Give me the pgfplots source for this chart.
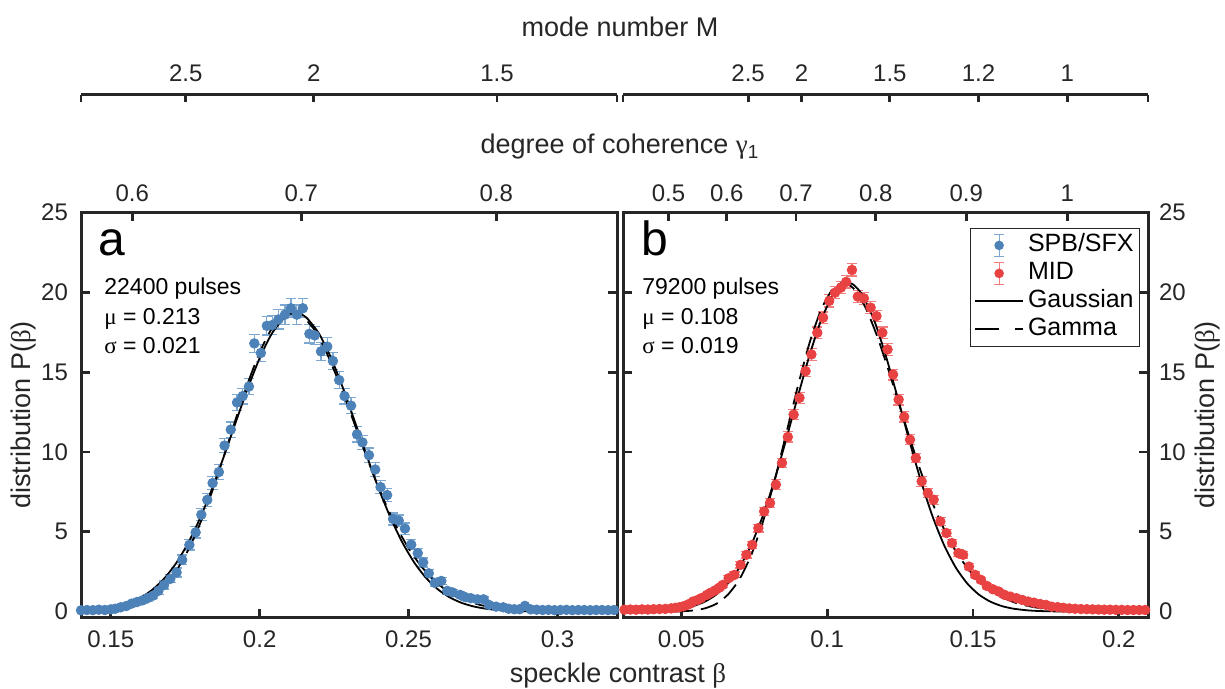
\documentclass[border=0pt]{standalone}
\usepackage{pgfplots}
\pgfplotsset{compat=1.18}
\usepackage{pgfplotstable}
\usepackage{fontspec}
\setmainfont{Liberation Sans}
\newfontfamily\grk{Liberation Serif}
\definecolor{bluepts}{RGB}{77,130,184}
\definecolor{blueerr}{RGB}{125,168,210}
\definecolor{redpts}{RGB}{232,66,66}
\definecolor{rederr}{RGB}{242,125,125}
\definecolor{axgray}{RGB}{38,38,38}

\pgfplotstableread{
x y e
0.1400 0.08 0.10
0.1420 0.10 0.10
0.1440 0.09 0.10
0.1460 0.12 0.10
0.1480 0.10 0.10
0.1500 0.14 0.10
0.1515 0.18 0.10
0.1533 0.27 0.12
0.1552 0.35 0.12
0.1570 0.50 0.15
0.1588 0.60 0.15
0.1606 0.70 0.18
0.1624 0.85 0.20
0.1642 1.00 0.20
0.1660 1.30 0.22
0.1679 1.67 0.25
0.1700 2.05 0.25
0.1721 2.45 0.28
0.1740 3.24 0.30
0.1764 4.18 0.32
0.1785 4.96 0.35
0.1804 6.07 0.38
0.1824 7.00 0.40
0.1842 8.05 0.42
0.1863 8.74 0.45
0.1882 10.40 0.45
0.1903 11.40 0.48
0.1924 13.10 0.50
0.1943 13.50 0.50
0.1964 14.10 0.52
0.1982 16.80 0.55
0.2004 16.20 0.55
0.2024 17.90 0.58
0.2042 17.95 0.58
0.2063 18.30 0.60
0.2085 18.60 0.60
0.2105 19.00 0.60
0.2125 18.60 0.60
0.2145 19.00 0.60
0.2167 17.40 0.58
0.2185 17.30 0.58
0.2206 16.30 0.55
0.2227 16.60 0.55
0.2246 15.70 0.55
0.2267 14.50 0.52
0.2285 13.50 0.50
0.2307 12.90 0.50
0.2327 11.10 0.48
0.2345 10.60 0.45
0.2367 9.80 0.45
0.2388 8.90 0.42
0.2406 7.80 0.40
0.2428 7.30 0.40
0.2448 5.80 0.38
0.2467 5.70 0.35
0.2488 5.20 0.35
0.2509 4.20 0.32
0.2531 3.66 0.30
0.2549 3.08 0.28
0.2568 2.40 0.25
0.2588 1.80 0.25
0.2610 1.92 0.22
0.2630 1.30 0.20
0.2648 1.20 0.20
0.2673 1.05 0.18
0.2691 0.90 0.18
0.2709 0.84 0.15
0.2731 0.77 0.15
0.2752 0.77 0.15
0.2770 0.42 0.12
0.2794 0.31 0.12
0.2818 0.27 0.10
0.2836 0.18 0.10
0.2855 0.15 0.10
0.2873 0.15 0.10
0.2891 0.36 0.10
0.2910 0.14 0.10
0.2930 0.12 0.10
0.2950 0.10 0.10
0.2970 0.11 0.10
0.2990 0.09 0.10
0.3010 0.10 0.10
0.3030 0.11 0.10
0.3050 0.09 0.10
0.3070 0.10 0.10
0.3090 0.10 0.10
0.3110 0.09 0.10
0.3130 0.10 0.10
0.3150 0.10 0.10
0.3170 0.09 0.10
0.3190 0.10 0.10
}\spbdata

\pgfplotstableread{
x y e
0.0305 0.12 0.08
0.0325 0.13 0.08
0.0345 0.12 0.08
0.0365 0.14 0.08
0.0385 0.13 0.08
0.0405 0.15 0.08
0.0425 0.16 0.08
0.0445 0.17 0.08
0.0465 0.20 0.08
0.0480 0.24 0.08
0.0493 0.27 0.08
0.0507 0.33 0.10
0.0520 0.42 0.10
0.0530 0.50 0.10
0.0540 0.63 0.10
0.0555 0.72 0.12
0.0568 0.84 0.12
0.0588 1.05 0.12
0.0600 1.18 0.14
0.0615 1.32 0.14
0.0630 1.50 0.15
0.0642 1.67 0.15
0.0662 2.09 0.16
0.0682 2.30 0.18
0.0703 2.93 0.20
0.0723 3.56 0.20
0.0743 4.18 0.22
0.0764 5.23 0.24
0.0784 6.28 0.26
0.0804 6.80 0.28
0.0824 7.95 0.30
0.0845 9.31 0.30
0.0865 10.94 0.32
0.0885 12.34 0.32
0.0905 13.39 0.34
0.0926 15.06 0.34
0.0946 16.11 0.36
0.0966 17.47 0.36
0.0986 18.41 0.36
0.1007 19.46 0.38
0.1027 19.98 0.38
0.1047 20.29 0.38
0.1065 20.65 0.38
0.1085 21.40 0.38
0.1105 19.73 0.38
0.1126 19.62 0.38
0.1149 19.04 0.38
0.1169 18.51 0.36
0.1189 17.47 0.36
0.1207 16.42 0.36
0.1226 14.85 0.34
0.1245 13.28 0.34
0.1264 12.20 0.32
0.1284 10.77 0.32
0.1304 9.62 0.30
0.1324 8.16 0.30
0.1345 7.43 0.28
0.1365 7.01 0.28
0.1388 5.65 0.26
0.1409 4.92 0.24
0.1428 4.29 0.22
0.1450 3.66 0.22
0.1466 3.56 0.20
0.1486 2.82 0.20
0.1507 2.30 0.18
0.1527 1.99 0.16
0.1547 1.61 0.15
0.1568 1.40 0.15
0.1588 1.26 0.14
0.1608 1.05 0.13
0.1628 0.94 0.12
0.1649 0.84 0.12
0.1669 0.73 0.11
0.1689 0.63 0.10
0.1709 0.56 0.10
0.1730 0.48 0.10
0.1750 0.42 0.09
0.1770 0.31 0.09
0.1790 0.28 0.08
0.1810 0.24 0.08
0.1830 0.20 0.08
0.1850 0.18 0.08
0.1870 0.16 0.08
0.1890 0.15 0.08
0.1910 0.14 0.08
0.1930 0.13 0.08
0.1950 0.12 0.08
0.1970 0.12 0.08
0.1990 0.11 0.08
0.2010 0.11 0.08
0.2030 0.10 0.08
0.2050 0.10 0.08
0.2070 0.10 0.08
0.2090 0.10 0.08
}\middata

\pgfplotstableread{
x y
0.140 0.052
0.144 0.099
0.148 0.180
0.152 0.316
0.156 0.534
0.160 0.872
0.164 1.372
0.168 2.083
0.172 3.048
0.176 4.303
0.180 5.857
0.184 7.688
0.188 9.731
0.192 11.88
0.196 13.99
0.200 15.88
0.204 17.39
0.208 18.36
0.210 18.62
0.212 18.70
0.214 18.62
0.216 18.36
0.220 17.39
0.224 15.88
0.228 13.99
0.232 11.88
0.236 9.731
0.240 7.688
0.244 5.857
0.248 4.303
0.252 3.048
0.256 2.083
0.260 1.372
0.264 0.872
0.268 0.534
0.272 0.316
0.276 0.180
0.280 0.099
0.284 0.052
0.288 0.027
0.292 0.013
0.300 0.003
0.320 0.000
}\gaussA

\pgfplotstableread{
x y
0.140 0.010
0.144 0.026
0.148 0.061
0.152 0.134
0.156 0.278
0.160 0.533
0.164 0.943
0.168 1.605
0.172 2.56
0.176 3.86
0.180 5.52
0.184 7.51
0.188 9.75
0.192 12.08
0.196 14.30
0.200 16.24
0.204 17.71
0.208 18.56
0.211 18.75
0.214 18.56
0.218 17.75
0.222 16.41
0.226 14.66
0.230 12.70
0.234 10.66
0.238 8.68
0.242 6.87
0.246 5.29
0.250 3.97
0.254 2.90
0.258 2.06
0.262 1.43
0.266 0.97
0.270 0.64
0.274 0.42
0.278 0.26
0.282 0.16
0.286 0.10
0.290 0.06
0.296 0.025
0.300 0.015
0.320 0.002
}\gammaA

\pgfplotstableread{
x y
0.030 0.004
0.040 0.029
0.045 0.075
0.050 0.179
0.054 0.340
0.058 0.618
0.062 1.069
0.066 1.767
0.070 2.788
0.074 4.198
0.078 6.03
0.082 8.27
0.086 10.82
0.090 13.51
0.094 16.09
0.098 18.30
0.102 19.86
0.105 20.48
0.107 20.60
0.109 20.48
0.112 19.86
0.116 18.30
0.120 16.09
0.124 13.51
0.128 10.82
0.132 8.27
0.136 6.03
0.140 4.198
0.144 2.788
0.148 1.767
0.152 1.069
0.156 0.618
0.160 0.340
0.164 0.179
0.169 0.075
0.174 0.029
0.184 0.004
0.210 0.000
}\gaussB

\pgfplotstableread{
x y
0.030 0.000
0.040 0.0004
0.045 0.003
0.050 0.021
0.054 0.070
0.058 0.20
0.062 0.49
0.066 1.07
0.070 2.05
0.074 3.56
0.078 5.65
0.082 8.23
0.086 11.18
0.090 14.15
0.094 16.86
0.098 18.95
0.102 20.24
0.1055 20.60
0.109 20.25
0.113 19.10
0.117 17.32
0.121 15.14
0.125 12.79
0.129 10.47
0.133 8.30
0.137 6.41
0.141 4.81
0.145 3.53
0.149 2.52
0.153 1.77
0.157 1.21
0.161 0.81
0.165 0.53
0.170 0.31
0.175 0.17
0.180 0.095
0.190 0.027
0.200 0.007
0.210 0.002
}\gammaB

\pgfplotsset{
  panel/.style={
    scale only axis, ymin=-0.4, ymax=25,
    ytick={0,5,10,15,20,25}, yticklabels={0,5,10,15,20,25},
    axis line style={axgray, line width=1.5pt},
    tick style={axgray, line width=1.4pt},
    major tick length=4.5pt,
    xtick pos=bottom, tick align=inside,
    tick label style={font=\fontsize{12}{14}\selectfont, text=axgray},
    xticklabel style={yshift=-3pt},
  },
  topax/.style={
    scale only axis, ymin=0, ymax=1,
    axis x line*=top, axis y line=none,
    axis line style={-, axgray, line width=1.5pt},
    every outer x axis line/.append style={-, axgray, line width=1.5pt},
    x axis line style={-, axgray, line width=1.5pt},
    tick style={axgray, line width=1.4pt},
    xtick align=inside,
    tick label style={font=\fontsize{12}{14}\selectfont, text=axgray},
  },
  spbstyle/.style={only marks, mark=*, mark size=2.4pt,
    mark options={draw=bluepts, fill=bluepts},
    error bars/.cd, y dir=both, y explicit,
    error bar style={blueerr, line width=0.6pt},
    error mark options={blueerr, mark size=2.6pt, line width=0.6pt, rotate=90},
    /pgfplots/.cd},
  midstyle/.style={only marks, mark=*, mark size=2.4pt,
    mark options={draw=redpts, fill=redpts},
    error bars/.cd, y dir=both, y explicit,
    error bar style={rederr, line width=0.6pt},
    error mark options={rederr, mark size=2.6pt, line width=0.6pt, rotate=90},
    /pgfplots/.cd},
  gaussstyle/.style={black, line width=0.9pt, smooth, tension=0.4},
  gammastyle/.style={black, line width=0.9pt, smooth, tension=0.4, dash pattern=on 9pt off 4pt},
}

\begin{document}
\begin{tikzpicture}
\useasboundingbox (0,0) rectangle (612.5pt,344.5pt);

% ---------- panel a ----------
\begin{axis}[panel, at={(40.5pt,35.5pt)}, anchor=south west,
  width=268pt, height=202.75pt,
  xmin=0.14, xmax=0.32,
  xtick={0.15,0.2,0.25,0.3}, xticklabels={0.15,0.2,0.25,0.3},
  yticklabel pos=left, yticklabel style={xshift=-3pt}]
\addplot[spbstyle] table[x=x, y=y, y error=e]{\spbdata};
\addplot[gaussstyle] table[x=x, y=y]{\gaussA};
\addplot[gammastyle] table[x=x, y=y]{\gammaA};
\end{axis}

\begin{axis}[topax, at={(40.5pt,35.5pt)}, anchor=south west,
  width=268pt, height=202.75pt, xmin=0.14, xmax=0.32,
  major tick length=4.5pt,
  xtick={0.1572,0.2140,0.2795}, xticklabels={0.6,0.7,0.8},
  xticklabel style={yshift=2pt}]
\end{axis}

\begin{axis}[topax, at={(40.5pt,287pt)}, anchor=south west,
  width=268pt, height=10pt, xmin=0.14, xmax=0.32,
  major tick length=3.5pt,
  xtick={0.14,0.1752,0.2182,0.2797,0.32}, xticklabels={{},2.5,2,1.5,{}},
  xticklabel style={yshift=3pt}]
\end{axis}

% ---------- panel b ----------
\begin{axis}[panel, at={(311.5pt,35.5pt)}, anchor=south west,
  width=262.5pt, height=202.75pt,
  xmin=0.03, xmax=0.21,
  xtick={0.05,0.1,0.15,0.2}, xticklabels={0.05,0.1,0.15,0.2},
  yticklabel pos=right, yticklabel style={xshift=2pt},
  legend style={at={(rel axis cs:0.985,0.962)}, anchor=north east,
    draw=axgray, line width=0.5pt, fill=white,
    font=\fontsize{12.5}{14}\selectfont, inner xsep=2pt, inner ysep=1.5pt,
    row sep=0pt, column sep=1pt,
    nodes={inner sep=1pt, text height=9pt, text depth=3pt}},
  legend cell align=left]
\addlegendimage{legend image code/.code={
  \path[draw=none] (0,0) -- (24pt,0);
  \draw[blueerr, line width=0.6pt] (12pt,-5.5pt) -- (12pt,5.5pt)
     (9.5pt,-5.5pt) -- (14.5pt,-5.5pt) (9.5pt,5.5pt) -- (14.5pt,5.5pt);
  \fill[bluepts, draw=none] (12pt,0) circle (2.4pt);}}
\addlegendentry{SPB/SFX}
\addplot[forget plot, midstyle] table[x=x, y=y, y error=e]{\middata};
\addlegendimage{legend image code/.code={
  \path[draw=none] (0,0) -- (24pt,0);
  \draw[rederr, line width=0.6pt] (12pt,-5.5pt) -- (12pt,5.5pt)
     (9.5pt,-5.5pt) -- (14.5pt,-5.5pt) (9.5pt,5.5pt) -- (14.5pt,5.5pt);
  \fill[redpts, draw=none] (12pt,0) circle (2.4pt);}}
\addlegendentry{MID}
\addplot[gaussstyle, legend image code/.code={\draw[black, line width=0.9pt] (0,0) -- (24pt,0);}] table[x=x, y=y]{\gaussB};
\addlegendentry{Gaussian}
\addplot[gammastyle, legend image code/.code={\draw[black, line width=0.9pt, dash pattern=on 12pt off 8pt] (0,0) -- (24pt,0);}] table[x=x, y=y]{\gammaB};
\addlegendentry{Gamma}
\end{axis}

\begin{axis}[topax, at={(311.5pt,35.5pt)}, anchor=south west,
  width=262.5pt, height=202.75pt, xmin=0.03, xmax=0.21,
  major tick length=4.5pt,
  xtick={0.0456,0.0656,0.0893,0.1167,0.1477,0.1823},
  xticklabels={0.5,0.6,0.7,0.8,0.9,1},
  xticklabel style={yshift=2pt}]
\end{axis}

\begin{axis}[topax, at={(311.5pt,287pt)}, anchor=south west,
  width=262.5pt, height=10pt, xmin=0.03, xmax=0.21,
  major tick length=3.5pt,
  xtick={0.03,0.0729,0.0912,0.1215,0.1519,0.1823,0.21},
  xticklabels={{},2.5,2,1.5,1.2,1,{}},
  xticklabel style={yshift=3pt}]
\end{axis}

% ---------- texts ----------
\begin{scope}[every node/.style={text=axgray, inner sep=0pt}]
\node[anchor=base] at (310pt,326pt) {\fontsize{13.5}{16}\selectfont mode number M};
\node[anchor=base] at (310pt,267.5pt) {\fontsize{13.5}{16}\selectfont degree of coherence {\grk γ}\textsubscript{1}};
\node[anchor=base] at (309pt,3pt) {\fontsize{13.5}{16}\selectfont speckle contrast {\grk β}};
\node[anchor=base, rotate=90] at (15.5pt,137pt) {\fontsize{13.5}{16}\selectfont distribution P({\grk β})};
\node[anchor=base, rotate=90] at (607pt,137pt) {\fontsize{13.5}{16}\selectfont distribution P({\grk β})};
\end{scope}

\begin{scope}[every node/.style={text=black, inner sep=0pt, anchor=base west}]
\node at (49pt,216.5pt) {\fontsize{24}{28}\selectfont a};
\node at (52pt,197pt) {\fontsize{11.5}{14}\selectfont 22400 pulses};
\node at (52pt,182.3pt) {\fontsize{11.5}{14}\selectfont {\grk μ} = 0.213};
\node at (52pt,167.7pt) {\fontsize{11.5}{14}\selectfont {\grk σ} = 0.021};
\node at (320.5pt,216.5pt) {\fontsize{24}{28}\selectfont b};
\node at (321pt,197pt) {\fontsize{11.5}{14}\selectfont 79200 pulses};
\node at (321pt,182.3pt) {\fontsize{11.5}{14}\selectfont {\grk μ} = 0.108};
\node at (321pt,167.7pt) {\fontsize{11.5}{14}\selectfont {\grk σ} = 0.019};
\end{scope}
\end{tikzpicture}
\end{document}
